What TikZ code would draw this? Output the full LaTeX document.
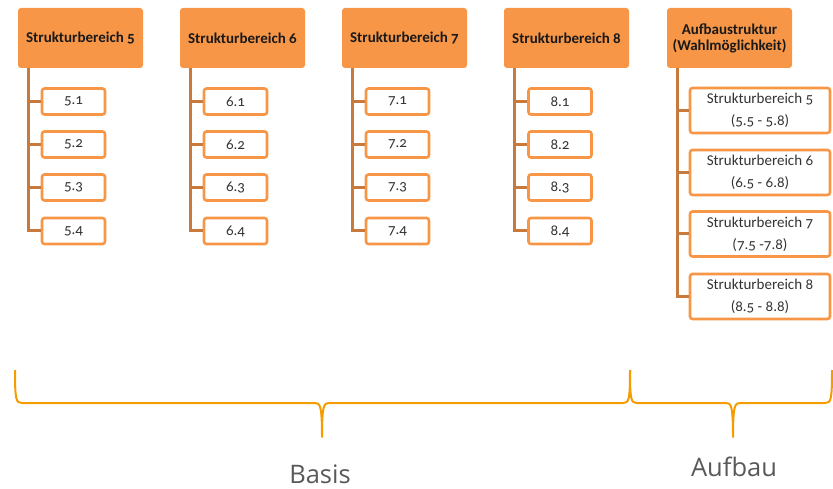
\documentclass[tikz,border=0pt]{standalone}
\usepackage{fontspec}
\setmainfont{Carlito}[Numbers=OldStyle]
\newfontfamily\labelfont{Open Sans}
\usetikzlibrary{positioning}
\definecolor{boxorange}{HTML}{F79646}
\definecolor{treebrown}{HTML}{C87A3C}
\definecolor{braceorange}{HTML}{F59C00}
\definecolor{labelgray}{HTML}{595959}
\tikzset{
    headnode/.style = {rectangle, rounded corners=3pt, fill=boxorange, draw=none, align=center, minimum width=125pt, minimum height=60pt, font=\bfseries\fontsize{15}{16}\selectfont, text=black!90},
    subnode/.style = {rectangle, rounded corners=2.5pt, fill=white, draw=boxorange, line width=2.6pt, minimum width=63pt, minimum height=26pt, inner sep=0pt, font=\fontsize{15}{16}\selectfont, text=black!80},
    subnodew/.style = {subnode, minimum width=140pt, minimum height=45pt, align=center, font=\fontsize{15}{22}\selectfont},
    edget/.style = {-, line width=3pt, treebrown},
    edgebr/.style = {-, line width=2pt, braceorange, line join=round},
    bracelabel/.style = {font=\labelfont\fontsize{25.5}{28}\selectfont, text=labelgray}
}
\begin{document}
\begin{tikzpicture}[x=1pt,y=-1pt]
\path[use as bounding box] (0,0) rectangle (833,489);
%
\node[headnode] at (80.5,38) (h5) {Strukturbereich 5};
\node[headnode] at (242.5,38) (h6) {Strukturbereich 6};
\node[headnode] at (404.5,38) (h7) {Strukturbereich 7};
\node[headnode] at (566.5,38) (h8) {Strukturbereich 8};
\node[headnode] at (729.5,38) (ha) {Aufbaustruktur\\(Wahlmöglichkeit)};
%
\coordinate (t5) at (28,68);
\coordinate (t6) at (190,68);
\coordinate (t7) at (352,68);
\coordinate (t8) at (514,68);
\coordinate (ta) at (677,68);
%
\node[subnode] at (73.5,101.5) (s51) {5.1};
\node[subnode] at (73.5,144.5) (s52) {5.2};
\node[subnode] at (73.5,187.5) (s53) {5.3};
\node[subnode] at (73.5,231) (s54) {5.4};
\node[subnode] at (235.5,101.5) (s61) {6.1};
\node[subnode] at (235.5,144.5) (s62) {6.2};
\node[subnode] at (235.5,187.5) (s63) {6.3};
\node[subnode] at (235.5,231) (s64) {6.4};
\node[subnode] at (397.5,101.5) (s71) {7.1};
\node[subnode] at (397.5,144.5) (s72) {7.2};
\node[subnode] at (397.5,187.5) (s73) {7.3};
\node[subnode] at (397.5,231) (s74) {7.4};
\node[subnode] at (560,101.5) (s81) {8.1};
\node[subnode] at (560,144.5) (s82) {8.2};
\node[subnode] at (560,187.5) (s83) {8.3};
\node[subnode] at (560,231) (s84) {8.4};
%
\node[subnodew] at (760,110.5) (sa5) {Strukturbereich 5\\(5.5 - 5.8)};
\node[subnodew] at (760,172.5) (sa6) {Strukturbereich 6\\(6.5 - 6.8)};
\node[subnodew] at (760,234) (sa7) {Strukturbereich 7\\(7.5 -7.8)};
\node[subnodew] at (760,296.5) (sa8) {Strukturbereich 8\\(8.5 - 8.8)};
%
\draw[edget] (t5) |- (s54.west);
\draw[edget] (t5 |- s51) -- (s51.west);
\draw[edget] (t5 |- s52) -- (s52.west);
\draw[edget] (t5 |- s53) -- (s53.west);
\draw[edget] (t6) |- (s64.west);
\draw[edget] (t6 |- s61) -- (s61.west);
\draw[edget] (t6 |- s62) -- (s62.west);
\draw[edget] (t6 |- s63) -- (s63.west);
\draw[edget] (t7) |- (s74.west);
\draw[edget] (t7 |- s71) -- (s71.west);
\draw[edget] (t7 |- s72) -- (s72.west);
\draw[edget] (t7 |- s73) -- (s73.west);
\draw[edget] (t8) |- (s84.west);
\draw[edget] (t8 |- s81) -- (s81.west);
\draw[edget] (t8 |- s82) -- (s82.west);
\draw[edget] (t8 |- s83) -- (s83.west);
\draw[edget] (ta) |- (sa8.west);
\draw[edget] (ta |- sa5) -- (sa5.west);
\draw[edget] (ta |- sa6) -- (sa6.west);
\draw[edget] (ta |- sa7) -- (sa7.west);
%
\coordinate (b0) at (15,370);
\coordinate (b1) at (630,370);
\coordinate (b2) at (832,370);
\coordinate (bt1) at (322,437);
\coordinate (bt2) at (733,437);
\draw[edgebr] (b0) .. controls (15,400) and (16,403) .. (22,403) -- (315,403)
  .. controls (320,403) and (322,405) .. (bt1)
  .. controls (322,405) and (324,403) .. (329,403) -- (623,403)
  .. controls (629,403) and (630,400) .. (b1);
\draw[edgebr] (b1) .. controls (630,400) and (631,403) .. (637,403) -- (726,403)
  .. controls (731,403) and (733,405) .. (bt2)
  .. controls (733,405) and (735,403) .. (740,403) -- (825,403)
  .. controls (831,403) and (832,400) .. (b2);
%
\node[bracelabel] at (320,474) (lbasis) {Basis};
\node[bracelabel] at (734,467) (laufbau) {Aufbau};
\end{tikzpicture}
\end{document}
